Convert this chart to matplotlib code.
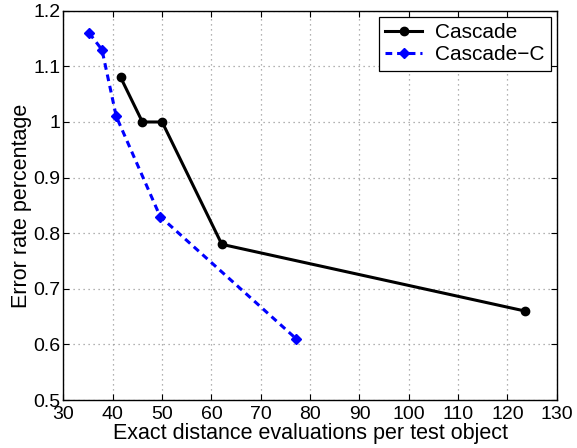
import matplotlib
matplotlib.use("Agg")
import matplotlib.pyplot as plt

cascade_x = [41.6, 46.0, 50.0, 62.1, 123.6]
cascade_y = [1.08, 1.00, 1.00, 0.78, 0.66]
cascadec_x = [35.2, 37.8, 40.7, 49.6, 77.2]
cascadec_y = [1.16, 1.13, 1.01, 0.83, 0.61]
xticks = [30, 40, 50, 60, 70, 80, 90, 100, 110, 120, 130]
yticks = [0.5, 0.6, 0.7, 0.8, 0.9, 1.0, 1.1, 1.2]
ytick_labels = ["0.5", "0.6", "0.7", "0.8", "0.9", "1", "1.1", "1.2"]

plt.rcParams['font.family'] = ['Liberation Sans', 'DejaVu Sans']
fig = plt.figure(figsize=(5.77, 4.48), dpi=100)
ax = fig.add_axes([0.110, 0.107, 0.855, 0.869])
ax.plot(cascade_x, cascade_y, color='black', lw=2.2, marker='o', ms=6,
        label='Cascade')
ax.plot(cascadec_x, cascadec_y, color='blue', lw=2.2, ls=(0, (2.2, 1.6)), marker='D', ms=5.5,
        label='Cascade\u2212C')
ax.set_xlim(30, 130)
ax.set_ylim(0.5, 1.2)
ax.set_xticks(xticks)
ax.set_yticks(yticks)
ax.set_yticklabels(ytick_labels)
ax.tick_params(direction='in', top=True, right=True, labelsize=14, length=4)
ax.tick_params(axis='x', pad=4)
ax.tick_params(axis='y', pad=2)
ax.grid(True, ls=(0, (1, 3)), color='#999999', lw=0.9)
for s in ax.spines.values():
    s.set_linewidth(1.0)
ax.set_xlabel('Exact distance evaluations per test object', fontsize=15.5, labelpad=0)
ax.set_ylabel('Error rate percentage', fontsize=15.5, labelpad=1)
leg = ax.legend(loc='upper right', fontsize=15, fancybox=False, edgecolor='black',
                framealpha=1, handlelength=1.8, handletextpad=0.6, borderpad=0.3,
                labelspacing=0.15, borderaxespad=0.3)
leg.get_frame().set_linewidth(0.9)
fig.savefig('out.png', dpi=100)
